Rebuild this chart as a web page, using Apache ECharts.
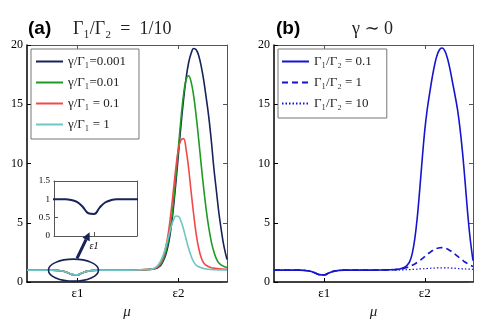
<!DOCTYPE html>
<html><head><meta charset="utf-8">
<script src="https://cdn.jsdelivr.net/npm/echarts@6/dist/echarts.min.js"></script>
<style>html,body{margin:0;padding:0;background:#fff}#c{width:491px;height:319px}</style>
</head><body><div id="c"></div>
<script>
// shared sample positions along mu (eps1 = 1, eps2 = 3)
const xs = [0,0.3,0.5,0.6,0.7,0.8,0.9,1.0,1.1,1.2,1.3,1.4,1.6,1.9,2.2,
  2.4,2.45,2.5,2.55,2.6,2.65,2.7,2.75,2.8,2.85,2.9,2.95,3.0,3.05,3.1,3.15,
  3.2,3.25,3.3,3.35,3.4,3.45,3.5,3.55,3.6,3.65,3.7,3.75,3.8,3.85,3.9,3.96];
// common low-mu part (dip at eps1), x = 0 .. 2.2
const baseDip = [1,1,1,0.98,0.93,0.8,0.62,0.6,0.78,0.92,0.98,1,1,1,1.02];
// peak parts, x = 2.4 .. 3.96
const peakA001 = [1.05,1.06,1.09,1.14,1.24,1.42,1.8,2.35,3.2,4.5,6.3,8.5,10.9,13.3,15.4,17.2,18.5,19.3,19.7,19.6,19.1,18.2,17.0,15.5,13.9,11.9,9.6,7.7,5.8,4.3,3.0,1.9];
const peakA01 = [1.06,1.07,1.1,1.17,1.29,1.5,1.9,2.55,3.5,4.87,6.74,8.99,11.45,13.84,15.83,17.07,17.4,16.87,15.7,14.0,12.0,9.86,7.84,6.05,4.56,3.39,2.55,1.95,1.6,1.42,1.3,1.22];
const peakA1 = [1.06,1.07,1.1,1.18,1.35,1.63,2.15,3.0,4.18,5.85,7.8,9.74,11.29,12.0,12.1,11.2,9.6,7.6,5.7,4.05,2.85,2.05,1.6,1.4,1.28,1.2,1.17,1.14,1.12,1.1,1.08,1.07];
const peakA10 = [1.05,1.07,1.12,1.25,1.45,1.8,2.3,2.99,3.8,4.59,5.23,5.57,5.53,5.12,4.44,3.63,2.84,2.19,1.7,1.42,1.28,1.2,1.14,1.1,1.07,1.05,1.04,1.03,1.02,1.02,1.01,1.01];
const peakB01 = [1.05,1.07,1.1,1.16,1.26,1.42,1.72,2.4,3.6,5.4,7.8,10.4,12.8,14.6,16.0,17.3,18.4,19.2,19.65,19.75,19.5,18.9,18.0,16.9,15.8,14.6,13.0,11.0,8.6,6.0,3.8,1.8];
const peakB1 = [1.04,1.05,1.08,1.12,1.17,1.23,1.31,1.41,1.52,1.66,1.81,1.98,2.15,2.33,2.49,2.64,2.76,2.84,2.89,2.9,2.86,2.78,2.66,2.52,2.36,2.19,2.01,1.85,1.69,1.55,1.43,1.31];
const peakB10 = [1.01,1.01,1.02,1.02,1.03,1.04,1.05,1.06,1.07,1.08,1.1,1.11,1.13,1.14,1.16,1.17,1.18,1.19,1.2,1.2,1.19,1.19,1.18,1.17,1.16,1.14,1.13,1.11,1.1,1.09,1.08,1.07];
const namesA = ['γ/Γ₁=0.001','γ/Γ₁=0.01','γ/Γ₁ = 0.1','γ/Γ₁ = 1'];
const namesB = ['Γ₁/Γ₂ = 0.1','Γ₁/Γ₂ = 1','Γ₁/Γ₂ = 10'];
const xTickVals = [1,3];
const xTickText = {1:'ε1',3:'ε2'};
const yTicksMain = [0,20,5];
const yTicksInset = [0,1.5,0.5];

const serif = '"Liberation Serif","DejaVu Serif",serif';
const pairs = (peak) => xs.map((x,i)=>[x, i<baseDip.length ? baseDip[i] : peak[i-baseDip.length]]);
const insetData = xs.slice(0, baseDip.length).map((x,i)=>[x, baseDip[i]]);

function xAx(gridIndex, position, min, max, ticks, show, strong, fs, italic){
  return {type:'value', gridIndex, position, min, max,
    axisLine:{show:true, onZero:false, lineStyle:{color:strong?'#000':'#555', width:strong?1.5:1}},
    axisTick:{show:true, inside:true, length:4, customValues:ticks, lineStyle:{color:strong?'#000':'#555'}},
    axisLabel:{show, customValues:ticks, formatter:v=>xTickText[v]||'', color:'#000', fontFamily:serif, fontSize:fs||13, fontStyle:italic?'italic':'normal', margin:5},
    splitLine:{show:false}};
}
function yAx(gridIndex, position, t, show, strong, fs){
  return {type:'value', gridIndex, position, min:t[0], max:t[1], interval:t[2],
    axisLine:{show:true, onZero:false, lineStyle:{color:strong?'#000':'#555', width:strong?1.5:1}},
    axisTick:{show:true, inside:true, length:4, lineStyle:{color:strong?'#000':'#555'}},
    axisLabel:{show, color:'#000', fontFamily:serif, fontSize:fs||12, margin:4},
    splitLine:{show:false}};
}
const colA = ['#16225a','#1f9a24','#ef4a4a','#6cc6c6'];
const peaksA = [peakA001, peakA01, peakA1, peakA10];
const peaksB = [peakB10, peakB1, peakB01];
const styB = [{type:[1.5,2], w:1.2, n:namesB[2]},{type:[6,4], w:1.6, n:namesB[1]},{type:'solid', w:1.6, n:namesB[0]}];

const series = [];
peaksA.forEach((p,i)=>series.push({name:namesA[i], type:'line', xAxisIndex:0, yAxisIndex:0, data:pairs(p), smooth:0.4, symbol:'none', lineStyle:{color:colA[i], width:1.6}, itemStyle:{color:colA[i]}}));
peaksB.forEach((p,i)=>series.push({name:styB[i].n, type:'line', xAxisIndex:2, yAxisIndex:2, data:pairs(p), smooth:0.4, symbol:'none', lineStyle:{color:'#1515cc', width:styB[i].w, type:styB[i].type}, itemStyle:{color:'#1515cc'}}));
series.push({name:'inset', type:'line', xAxisIndex:4, yAxisIndex:4, data:insetData, smooth:0.4, symbol:'none', lineStyle:{color:'#16225a', width:2}, z:5});

const legendBase = {orient:'vertical', itemWidth:27, itemHeight:14, itemGap:8, borderColor:'#777', borderWidth:1, backgroundColor:'#fff',
  textStyle:{fontFamily:serif, fontSize:13, color:'#222'}, itemStyle:{opacity:0}};

const chart = echarts.init(document.getElementById('c'), null, {renderer:'canvas'});
chart.setOption({
  animation:false,
  backgroundColor:'#fff',
  title:[
    {text:'(a)', left:28, top:19, padding:0, textStyle:{fontFamily:'"Liberation Sans",Arial,sans-serif', fontWeight:'bold', fontSize:19, color:'#000'}},
    {text:'Γ₁/Γ₂  =  1/10', left:73, top:20, padding:0, textStyle:{fontFamily:serif, fontWeight:'normal', fontSize:18, color:'#222'}},
    {text:'(b)', left:276, top:19, padding:0, textStyle:{fontFamily:'"Liberation Sans",Arial,sans-serif', fontWeight:'bold', fontSize:19, color:'#000'}},
    {text:'γ ∼ 0', left:352, top:20, padding:0, textStyle:{fontFamily:serif, fontWeight:'normal', fontSize:18, color:'#222'}}
  ],
  legend:[
    Object.assign({}, legendBase, {data:namesA, left:31, top:49, padding:[6,13,8,4]}),
    Object.assign({}, legendBase, {data:namesB, left:278, top:49, padding:[6,15,8,3]})
  ],
  grid:[
    {left:27, top:45, width:200, height:237, outerBoundsMode:'none', containLabel:false},
    {left:274, top:45, width:199, height:237, outerBoundsMode:'none', containLabel:false},
    {left:54, top:181, width:83, height:55, show:true, backgroundColor:'#fff', borderWidth:0, z:4, outerBoundsMode:'none', containLabel:false}
  ],
  xAxis:[
    Object.assign(xAx(0,'bottom',0,3.96,xTickVals,true,true), {name:'μ', nameLocation:'middle', nameGap:15, nameTextStyle:{fontFamily:serif, fontStyle:'italic', fontSize:15, color:'#222'}}),
    xAx(0,'top',0,3.96,xTickVals,false,false),
    Object.assign(xAx(1,'bottom',0,3.96,xTickVals,true,true), {name:'μ', nameLocation:'middle', nameGap:15, nameTextStyle:{fontFamily:serif, fontStyle:'italic', fontSize:15, color:'#222'}}),
    xAx(1,'top',0,3.96,xTickVals,false,false),
    Object.assign(xAx(2,'bottom',0.3,1.75,[1],true,false,10,true), {z:5}),
    Object.assign(xAx(2,'top',0.3,1.75,[],false,false), {z:5})
  ],
  yAxis:[
    yAx(0,'left',yTicksMain,true,true),
    yAx(0,'right',yTicksMain,false,false),
    yAx(1,'left',yTicksMain,true,true),
    yAx(1,'right',yTicksMain,false,false),
    Object.assign(yAx(2,'left',yTicksInset,true,false,9), {z:5}),
    Object.assign(yAx(2,'right',yTicksInset,false,false), {z:5, axisTick:{show:false}})
  ],
  series
});

// annotation: ellipse around eps1 dip and arrow to inset (positioned through the main axes)
const c0 = chart.convertToPixel({xAxisIndex:0, yAxisIndex:0}, [0.92, 1.0]);
const a0 = chart.convertToPixel({xAxisIndex:0, yAxisIndex:0}, [0.99, 2.0]);
const a1 = chart.convertToPixel({xAxisIndex:0, yAxisIndex:0}, [1.24, 4.2]);
const ang = Math.atan2(a1[1]-a0[1], a1[0]-a0[0]);
const hl = 8, hw = 4;
const tip = a1;
const bx = tip[0]-hl*Math.cos(ang), by = tip[1]-hl*Math.sin(ang);
const head = [tip, [bx+hw*Math.sin(ang), by-hw*Math.cos(ang)], [bx-hw*Math.sin(ang), by+hw*Math.cos(ang)]];
chart.setOption({graphic:[
  {type:'ellipse', shape:{cx:c0[0], cy:c0[1], rx:25, ry:11}, style:{fill:'none', stroke:'#16225a', lineWidth:1.6}, z:10},
  {type:'line', shape:{x1:a0[0], y1:a0[1], x2:bx, y2:by}, style:{stroke:'#16225a', lineWidth:3}, z:10},
  {type:'polygon', shape:{points:head}, style:{fill:'#16225a'}, z:10}
]});
</script></body></html>
